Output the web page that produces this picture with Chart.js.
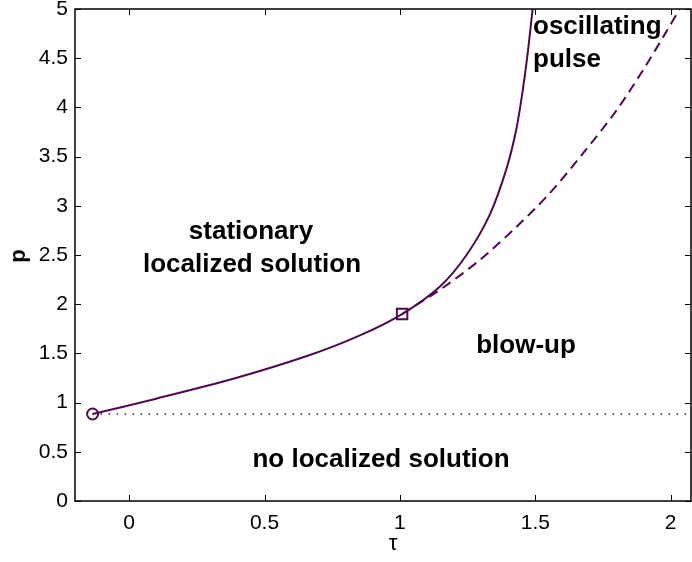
<!DOCTYPE html>
<html>
<head>
<meta charset="utf-8">
<script src="https://cdn.jsdelivr.net/npm/chart.js@4"></script>
<style>
  html, body { margin: 0; padding: 0; background: #fff; }
  #wrap { width: 692px; height: 562px; }
</style>
</head>
<body>
<div id="wrap"><canvas id="chart" width="692" height="562"></canvas></div>
<script>
// curve data (tau, p)
const stationaryTau = [-0.135, 0.1, 0.391, 0.662, 0.846, 1.008, 1.148, 1.246, 1.332, 1.394, 1.430, 1.455, 1.474, 1.490];
const stationaryP   = [0.884, 1.04, 1.247, 1.478, 1.675, 1.9, 2.18, 2.50, 2.91, 3.38, 3.78, 4.2, 4.6, 5.0];

const pulseTau = [1.008, 1.16, 1.295, 1.431, 1.553, 1.676, 1.80, 1.898, 1.984, 2.033];
const pulseP   = [1.9, 2.17, 2.449, 2.788, 3.127, 3.533, 3.97, 4.38, 4.77, 5.0];

const thresholdTau = [-0.135, 2.075];
const thresholdP   = [0.884, 0.884];

const startPoint  = { x: -0.135, y: 0.884 };
const branchPoint = { x: 1.008, y: 1.9 };

const xTicks = [0, 0.5, 1, 1.5, 2];
const yTicks = [0, 0.5, 1, 1.5, 2, 2.5, 3, 3.5, 4, 4.5, 5];

const lineColor = '#4f0a4f';
const fontFamily = '"Liberation Sans", Arial, sans-serif';

function toPoints(xs, ys) {
    return xs.map((x, i) => ({ x: x, y: ys[i] }));
}

// box + inward ticks + axis titles + region labels, MATLAB style
const decorations = {
    id: 'decorations',
    afterDatasetsDraw(chart) {
        const ctx = chart.ctx;
        const a = chart.chartArea;
        const xs = chart.scales.x;
        const ys = chart.scales.y;
        ctx.save();
        ctx.strokeStyle = '#000';
        ctx.lineWidth = 1;
        ctx.beginPath();
        xTicks.forEach(t => {
            const px = Math.round(xs.getPixelForValue(t)) + 0.5;
            ctx.moveTo(px, a.bottom); ctx.lineTo(px, a.bottom - 6);
            ctx.moveTo(px, a.top); ctx.lineTo(px, a.top + 6);
        });
        yTicks.forEach(t => {
            const py = Math.round(ys.getPixelForValue(t)) + 0.5;
            ctx.moveTo(a.left, py); ctx.lineTo(a.left + 6, py);
            ctx.moveTo(a.right, py); ctx.lineTo(a.right - 6, py);
        });
        ctx.stroke();
        ctx.lineWidth = 1.5;
        ctx.strokeRect(a.left, a.top, a.right - a.left, a.bottom - a.top);

        ctx.fillStyle = '#000';
        // axis titles
        ctx.textAlign = 'center';
        ctx.textBaseline = 'middle';
        ctx.font = '22px ' + fontFamily;
        ctx.fillText('τ', 393, 544);
        ctx.save();
        ctx.translate(19, 256);
        ctx.rotate(-Math.PI / 2);
        ctx.font = 'bold 22px ' + fontFamily;
        ctx.fillText('p', 0, 0);
        ctx.restore();

        // region labels
        ctx.font = 'bold 26px ' + fontFamily;
        ctx.textBaseline = 'alphabetic';
        ctx.textAlign = 'center';
        ctx.fillText('stationary', 251, 239);
        ctx.fillText('localized solution', 252, 272);
        ctx.fillText('blow-up', 526, 353);
        ctx.fillText('no localized solution', 381, 467);
        ctx.textAlign = 'left';
        ctx.fillText('oscillating', 533, 34);
        ctx.fillText('pulse', 533, 67);
        ctx.restore();
    }
};

const ctx = document.getElementById('chart').getContext('2d');
new Chart(ctx, {
    type: 'scatter',
    data: {
        datasets: [
            {
                label: 'threshold',
                data: toPoints(thresholdTau, thresholdP),
                showLine: true,
                borderColor: lineColor,
                borderWidth: 1.3,
                borderDash: [1.5, 6.5],
                pointRadius: 0
            },
            {
                label: 'stationary',
                data: toPoints(stationaryTau, stationaryP),
                showLine: true,
                borderColor: lineColor,
                borderWidth: 2,
                tension: 0.3,
                pointRadius: 0
            },
            {
                label: 'pulse',
                data: toPoints(pulseTau, pulseP),
                showLine: true,
                borderColor: lineColor,
                borderWidth: 2,
                borderDash: [10, 6],
                tension: 0.3,
                pointRadius: 0
            },
            {
                label: 'start',
                data: [startPoint],
                pointStyle: 'circle',
                pointRadius: 5.5,
                borderColor: lineColor,
                borderWidth: 2,
                backgroundColor: 'rgba(0,0,0,0)'
            },
            {
                label: 'branch',
                data: [branchPoint],
                pointStyle: 'rect',
                pointRadius: 7.4,
                borderColor: lineColor,
                borderWidth: 2,
                backgroundColor: 'rgba(0,0,0,0)'
            }
        ]
    },
    options: {
        responsive: false,
        animation: false,
        layout: { autoPadding: false, padding: { top: 9, right: 1, left: 0, bottom: 0 } },
        plugins: {
            legend: { display: false },
            tooltip: { enabled: false }
        },
        scales: {
            x: {
                type: 'linear',
                min: -0.2,
                max: 2.075,
                afterBuildTicks: scale => { scale.ticks = xTicks.map(v => ({ value: v })); },
                afterFit: scale => {
                    scale.height = 61;
                    scale.paddingLeft = 0;
                    scale.paddingRight = 0;
                },
                grid: { display: false, drawTicks: false },
                border: { display: false },
                ticks: {
                    color: '#000',
                    padding: 10,
                    maxRotation: 0,
                    callback: v => String(v),
                    font: { family: fontFamily, size: 21 }
                }
            },
            y: {
                type: 'linear',
                min: 0,
                max: 5,
                afterBuildTicks: scale => { scale.ticks = yTicks.map(v => ({ value: v })); },
                afterFit: scale => {
                    scale.width = 75;
                    scale.paddingTop = 0;
                    scale.paddingBottom = 0;
                },
                grid: { display: false, drawTicks: false },
                border: { display: false },
                ticks: {
                    color: '#000',
                    padding: 7,
                    callback: v => String(v),
                    font: { family: fontFamily, size: 21 }
                }
            }
        }
    },
    plugins: [decorations]
});
</script>
</body>
</html>
